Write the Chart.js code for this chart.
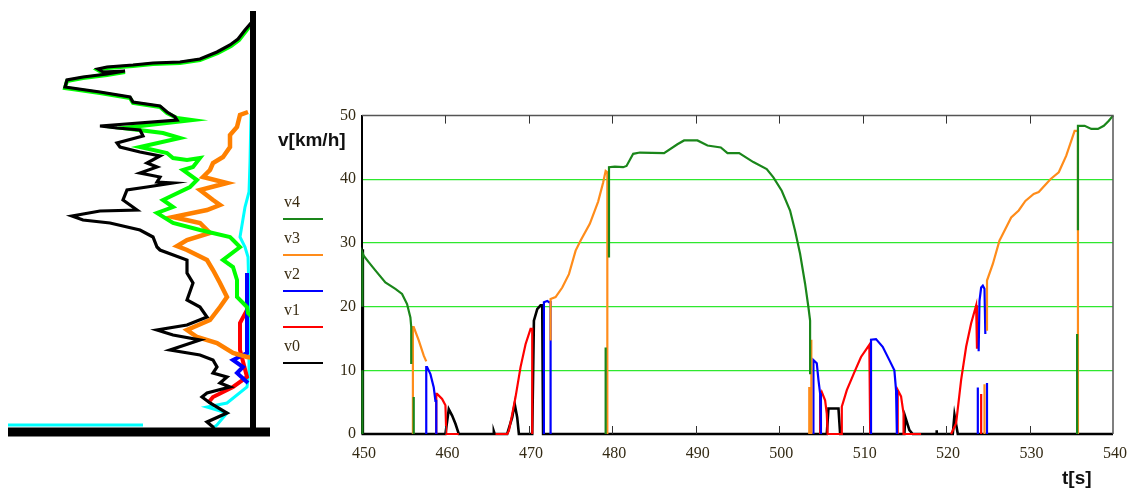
<!DOCTYPE html>
<html>
<head>
<meta charset="utf-8">
<script src="https://cdn.jsdelivr.net/npm/chart.js@4.4.0/dist/chart.umd.min.js"></script>
<style>
  body { margin: 0; background: #fff; width: 1137px; height: 489px; position: relative; overflow: hidden; }
  #side { position: absolute; left: 0; top: 0; }
  #main { position: absolute; left: 290px; top: 100px; }
  .title { position: absolute; font-family: "Liberation Sans", Arial, sans-serif; font-weight: bold; font-size: 19px; color: #111; line-height: 19px; }
  .leg { position: absolute; left: 284px; font-family: "Liberation Serif", "Times New Roman", serif; font-size: 16px; line-height: 16px; color: #3a2c12; }
  .legline { position: absolute; left: 283px; width: 40px; height: 2px; }
</style>
</head>
<body>
<canvas id="side" width="280" height="450"></canvas>
<canvas id="main" width="847" height="389"></canvas>

<div class="title" style="left:278px; top:130px;">v[km/h]</div>
<div class="title" style="left:1062px; top:468px;">t[s]</div>

<div class="leg" style="top:194px;">v4</div><div class="legline" style="top:218px; background:#1a861a;"></div>
<div class="leg" style="top:230px;">v3</div><div class="legline" style="top:254px; background:#ff8c1a;"></div>
<div class="leg" style="top:266px;">v2</div><div class="legline" style="top:290px; background:#0000ff;"></div>
<div class="leg" style="top:302px;">v1</div><div class="legline" style="top:326px; background:#ff0000;"></div>
<div class="leg" style="top:338px;">v0</div><div class="legline" style="top:362px; background:#000;"></div>

<script>
// ---- main chart: speed of each vehicle over time, pieces split by null ----
const timeTicks = [450, 460, 470, 480, 490, 500, 510, 520, 530, 540];
const speedTicks = [0, 10, 20, 30, 40, 50];

// [t, v]
const v4 = [
  [450.05,0],[450.05,10], null,
  [450.05,20],[450.05,28.5],[450.2,28],[450.8,27],[451.6,25.7],[452.8,23.8],[454,22.8],[454.8,22],[455.4,20.4],[455.8,18.3],[455.9,16.8],[455.9,11], null,
  [456.2,0],[456.2,5.8], null,
  [479.2,0],[479.2,13.6], null,
  [479.6,27.7],[479.6,41.9],[480.3,42],[481.3,41.9],[481.7,42.1],[482.5,44],[483.3,44.2],[486.2,44.1],[487.8,45.5],[488.6,46.1],[490.2,46.1],[491.4,45.3],[493,45],[493.8,44.1],[495.2,44.1],[496.9,42.7],[498.5,41.6],[499.3,40.3],[500.3,38.2],[501.3,35.1],[501.9,31.9],[502.5,28.3],[503.1,23.6],[503.5,19.9],[503.7,17.8],[503.7,9.4], null,
  [535.7,0],[535.7,15.7], null,
  [535.8,32],[535.8,48.4],[536,48.4],[536.6,48.4],[537.4,47.9],[538.2,47.9],[538.9,48.4],[539.5,49.2],[540,50]
];
const v3 = [
  [456.1,0],[456.1,16.8],[456.2,16.8],[456.8,14.7],[457.4,12.3],[457.7,11.4], null,
  [472.6,14.7],[472.6,21.2],[473.2,21.5],[474,23],[474.8,25.1],[475.6,28.8],[476.2,30.4],[477.3,33],[478.3,36.5],[478.9,39.5],[479.2,41.3],[479.4,41.1],[479.4,0], null,
  [503.6,0],[503.6,7.4], null,
  [503.85,0],[503.85,14.8], null,
  [524.6,0],[524.6,7.8], null,
  [524.9,16.2],[524.9,24.1],[525.6,26.7],[526.4,30.4],[526.6,30.9],[527.8,34],[528.7,35.1],[529.5,36.6],[530.5,37.7],[531.1,38],[532.5,40],[533.5,41.1],[534.4,43.7],[535.4,47.6],[535.8,47.6],[535.8,0]
];
const v2 = [
  [457.7,0],[457.7,10.5],[457.8,10.5],[458.2,9.4],[458.6,7.3],[458.8,5.2],[458.9,5.2],[458.9,0], null,
  [471.8,0],[471.8,20.7],[472.2,20.9],[472.4,20.7],[472.6,20.7],[472.6,0], null,
  [504.1,0],[504.1,11.6],[504.5,11.1],[504.7,8.5],[504.9,6.4],[505,6.4],[505,0], null,
  [511,0],[511,14.8],[511.6,14.9],[512.4,13.7],[513.2,11.6],[513.8,10],[514,6.9],[514.1,0], null,
  [523.8,0],[523.8,7.3], null,
  [523.9,13],[524,20.9],[524.2,23],[524.4,23.3],[524.6,22.8],[524.7,15.7], null,
  [524.9,8],[524.9,0]
];
const v1 = [
  [458.9,0],[458.9,6.3],[459,6.3],[459.6,5.5],[460,4.5],[460.1,0],[461.6,0], null,
  [466,0],[467.4,0],[467.6,0.5],[468,3.1],[468.4,5.8],[469,10.5],[469.6,14.1],[470.2,16.5],[470.4,16.5],[470.4,0], null,
  [504.9,0],[504.9,5.9],[505.1,6.6],[505.5,5.3],[505.7,3.2],[505.8,0],[507.5,0],[507.5,4.3],[508.1,6.9],[509.1,10],[509.8,12.1],[510.8,14],[510.9,0], null,
  [514.2,0],[514.2,6.9],[514.6,5.9],[514.9,3.2],[514.9,0],[517,0], null,
  [520.6,0],[521.2,1.7],[521.8,8.5],[522.4,13.7],[523,17.4],[523.6,20.2],[523.7,13.4], null,
  [524.2,6.3],[524.2,0]
];
const v0 = [
  [450.1,29],[450.1,0],[460,0],[460.4,3.9],[460.8,2.9],[461.2,1.6],[461.6,0],[465.7,0],[465.8,0.4],[465.9,0],
  [467.4,0],[468,2.6],[468.3,4.7],[468.6,2.6],[468.8,0],[470.4,0],[470.6,17.8],[471,19.6],[471.4,20.2],[471.6,20.2],[471.7,0],
  [505.7,0],[505.9,4],[507.1,4],[507.3,0],[515,0],[515.1,2.7],[515.6,0.6],[516,0],[518.8,0],[518.85,0.6],[518.9,0],
  [520.8,0],[521,3],[521.4,0],[540,0]
];

// ---- side panel profiles: [distance left of the axis, height above the base] ----
const sideBlack = [
  [2,409],[8,402],[15,393],[23,387],[36,380],[53,373],[73,370],[100,369],[120,367],[146,365],[155,363],[150,360],[128,361],[146,358],[170,355],[186,352],[188,345],[181,344],[153,340],[123,335],[120,330],[93,326],[86,320],[78,315],[76,312],
  [153,306],[136,304],[113,302],[110,296],[136,289],[133,285],[113,280],[93,276],[106,269],[96,265],[113,259],[93,255],[96,250],[80,249],[106,245],[126,242],[130,232],[116,222],[153,221],[181,216],[170,212],[143,209],[113,202],[100,195],[96,185],[93,182],
  [66,172],[66,159],[60,149],[66,132],[53,125],[46,115],[66,107],[96,102],[80,97],[53,92],[83,82],[53,77],[40,72],[36,65],[40,59],[26,55],[33,49],[23,45],[46,39],[51,35],[43,29],[26,19],[46,10],[40,5],[38,0]
];
const sideGreen = [
  [1,409],[7,401],[14,392],[22,386],[35,379],[53,372],[73,369],[100,368],[120,366],[146,364],[155,362],[150,359],[128,360],[146,357],[170,354],[186,351],[188,344],[181,343],[153,339],[123,334],[120,329],[93,325],[86,319],[76,314],[61,312],
  [130,304],[90,299],[73,294],[113,285],[86,279],[80,274],[66,272],[53,274],[60,265],[70,262],[56,252],[63,245],[90,232],[80,225],[96,219],[80,209],[53,202],[23,195],[20,192],[13,185],[30,172],[20,165],[16,152],[16,135],[6,125],[5,119],[0,114]
];
const sideOrange = [
  [5,320],[13,317],[16,305],[23,297],[23,285],[30,275],[40,269],[43,262],[50,255],[26,249],[53,242],[40,232],[33,227],[46,222],[80,215],[53,209],[43,199],[66,192],[76,186],[66,182],
  [46,172],[40,162],[33,149],[26,135],[33,125],[43,112],[66,102],[56,95],[36,89],[20,79],[6,75],[0,74]
];
const sideCyan = [
  [2,318],[3,270],[4,240],[8,225],[13,195],[8,185],[5,175],[4,140],[4,60],[6,45],[26,29],[46,25],[26,19],[36,7],[40,4], null,
  [110,7],[245,7]
];
const sideBlue = [[6,159],[6,79],[20,72],[10,65],[16,59],[5,49]];
const sideRed = [[6,135],[6,122],[13,109],[13,82],[6,55],[20,45],[40,35],[45,29]];
const sideAxisV = [[0,-4],[0,421]];
const sideAxisH = [[245,0],[-17,0]];

const toPts = arr => arr.map((p, i) => p ? {x: p[0], y: p[1]} : {x: arr[i - 1][0], y: null});

const line = (data, color, width) => ({
  data: toPts(data), borderColor: color, borderWidth: width,
  pointRadius: 0, tension: 0, spanGaps: false, clip: 4
});

// frame + short inner ticks on top and bottom
const framePlugin = {
  id: 'framePlugin',
  afterDatasetsDraw(chart) {
    const {ctx, chartArea: a, scales: {x}} = chart;
    ctx.save();
    ctx.strokeStyle = '#555';
    ctx.lineWidth = 1.5;
    ctx.beginPath();
    ctx.moveTo(a.left, a.top);
    ctx.lineTo(a.right, a.top);
    ctx.lineTo(a.right, a.bottom);
    ctx.stroke();
    ctx.lineWidth = 1;
    ctx.strokeStyle = '#333';
    timeTicks.slice(1, -1).forEach(t => {
      const px = Math.round(x.getPixelForValue(t)) + 0.5;
      ctx.beginPath();
      ctx.moveTo(px, a.top); ctx.lineTo(px, a.top + 8);
      ctx.moveTo(px, a.bottom); ctx.lineTo(px, a.bottom - 8);
      ctx.stroke();
    });
    ctx.restore();
  }
};

const tickFont = {family: '"Liberation Serif", "Times New Roman", serif', size: 16};

new Chart(document.getElementById('main'), {
  type: 'line',
  data: {
    datasets: [
      line(v4, '#1a861a', 2.2),
      line(v3, '#ff8c1a', 2.2),
      line(v2, '#0000ff', 2.2),
      line(v1, '#ff0000', 2.2),
      line(v0, '#000000', 2.6)
    ]
  },
  options: {
    animation: false,
    responsive: false,
    plugins: {legend: {display: false}, tooltip: {enabled: false}},
    layout: {padding: {top: 15, right: 24, left: 0, bottom: 0}},
    scales: {
      x: {
        type: 'linear', min: 450, max: 540,
        afterBuildTicks: s => { s.ticks = timeTicks.map(v => ({value: v})); },
        afterFit: s => { s.height = 55; },
        grid: {display: false, drawTicks: false},
        border: {display: false},
        ticks: {padding: 10, labelOffset: 2, maxRotation: 0, font: tickFont, color: '#332a14'}
      },
      y: {
        min: 0, max: 50,
        afterBuildTicks: s => { s.ticks = speedTicks.map(v => ({value: v})); },
        afterFit: s => { s.width = 72; },
        grid: {
          drawTicks: false, lineWidth: 1.3,
          color: c => (c.tick.value === 0 || c.tick.value === 50) ? 'rgba(0,0,0,0)' : '#2ee82e'
        },
        border: {color: '#000', width: 2},
        ticks: {padding: 6, font: tickFont, color: '#332a14'}
      }
    }
  },
  plugins: [framePlugin]
});

new Chart(document.getElementById('side'), {
  type: 'line',
  data: {
    datasets: [
      line(sideAxisV, '#000000', 6),
      line(sideAxisH, '#000000', 9),
      line(sideBlack, '#000000', 3.2),
      line(sideGreen, '#00ff00', 4),
      line(sideOrange, '#ff8000', 4.5),
      line(sideBlue, '#0000ff', 4),
      line(sideRed, '#ff0000', 4),
      line(sideCyan, '#00ffff', 3)
    ]
  },
  options: {
    animation: false,
    responsive: false,
    plugins: {legend: {display: false}, tooltip: {enabled: false}},
    layout: {padding: 0},
    scales: {
      x: {type: 'linear', reverse: true, min: -27, max: 253, display: false},
      y: {type: 'linear', min: -18, max: 432, display: false}
    }
  }
});
</script>
</body>
</html>
